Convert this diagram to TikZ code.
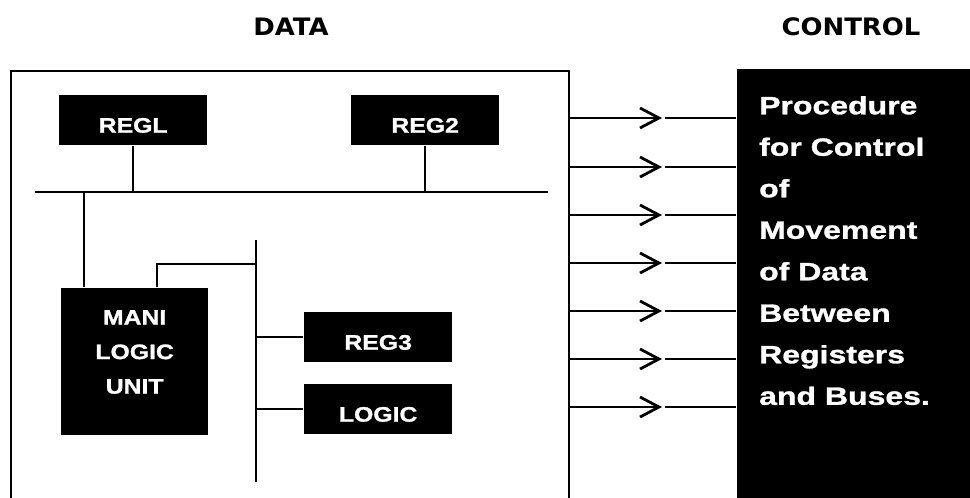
\documentclass[tikz,border=0pt]{standalone}
\usepackage{fontspec}
\usetikzlibrary{arrows.meta}
\newfontfamily\titlefont[FakeStretch=1.08]{DejaVu Sans Bold}
\newfontfamily\boxfont[FakeStretch=1.18,FakeBold=1.2]{Liberation Sans Bold}
\newfontfamily\ctrlfont[FakeStretch=1.28,FakeBold=1.2]{Liberation Sans Bold}
\begin{document}
\begin{tikzpicture}[x=1pt,y=-1pt,line width=2.3pt,
  blk/.style={draw=none,fill=black,text=white,inner sep=0pt,font=\boxfont\fontsize{21}{25}\selectfont},
  regbox/.style={blk,anchor=north west,minimum width=148pt,minimum height=50pt,text height=25pt,text depth=0pt},
  title/.style={anchor=base,inner sep=0pt,font=\titlefont\fontsize{24}{28}\selectfont},
  arr/.style={-{Straight Barb[length=19pt,width=20pt,line width=2.8pt]}}]
\useasboundingbox (0,0) rectangle (970,498);
% titles
\node[title] (tdata) at (291,35) {DATA};
\node[title] (tctrl) at (851,35) {CONTROL};
% outer data box (open at the bottom)
\draw (11,498) -- (11,71) -- (569,71) -- (569,498);
% registers
\node[regbox] (regl) at (58,94) {REGL};
\node[regbox] (reg2) at (350,94) {REG2};
\node[regbox] (reg3) at (303,311) {REG3};
\node[regbox] (logic) at (303,383) {LOGIC};
\node[blk,anchor=north west,font=\boxfont\fontsize{21}{34.5}\selectfont] (mani) at (60,287)
  {\begin{minipage}[c][147pt][t]{147pt}\centering\vspace*{22pt}MANI\\LOGIC\\UNIT\end{minipage}};
% buses
\coordinate (busL) at (35,192);
\coordinate (busR) at (548,192);
\draw (busL) -- (busR);
\draw (regl.south) -- (regl.south |- busL);
\draw (reg2.south) -- (reg2.south |- busL);
\coordinate (j1) at (84,192);
\draw (j1) -- (j1 |- mani.north);
\coordinate (vbT) at (256,240);
\coordinate (vbB) at (256,482);
\draw (vbT) -- (vbB);
\draw (157,0 |- mani.north) -- (157,264) -- (vbT |- 0,264);
\draw (reg3.west) -- (reg3.west -| vbT);
\draw (logic.west) -- (logic.west -| vbT);
% control box
\node[fill=black,text=white,inner sep=0pt,anchor=north west,font=\ctrlfont\fontsize{25}{41.5}\selectfont] (ctrl) at (736,68)
  {\begin{minipage}[c][430pt][t]{234pt}\raggedright\leftskip=22pt\vspace*{27pt}Procedure\\for Control\\of\\Movement\\of Data\\Between\\Registers\\and Buses.\end{minipage}};
% control arrows
\foreach \y [count=\i] in {118,167,215,263,311,359,407}{
  \coordinate (s\i) at (569,\y);
  \coordinate (m\i) at (662,\y);
  \coordinate (r\i) at (665,\y);
  \draw[arr] (s\i) -- (m\i);
  \draw (r\i) -- (r\i -| ctrl.west);
}
\end{tikzpicture}
\end{document}
